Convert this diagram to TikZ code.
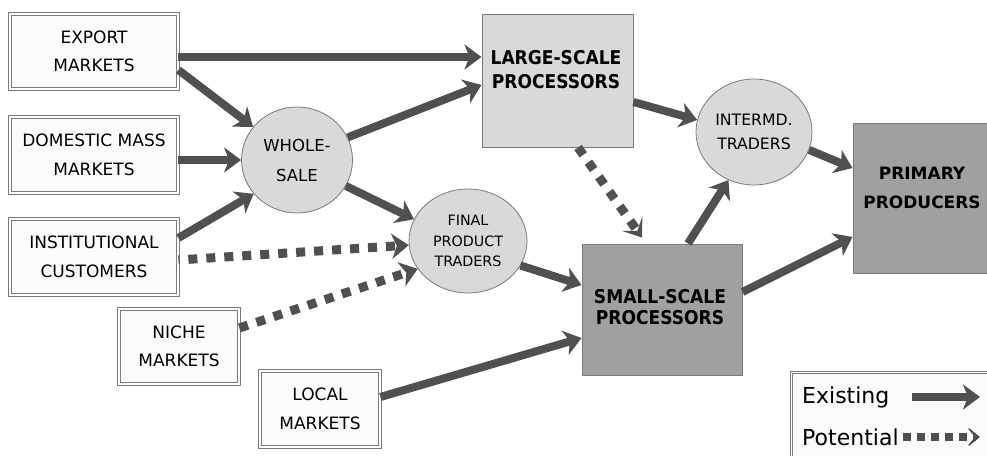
\documentclass[tikz,border=0pt]{standalone}
\usepackage{fontspec}
\setmainfont{DejaVu Sans}
\newfontfamily\narrowbold[FakeStretch=0.9]{DejaVu Sans Bold}
\usetikzlibrary{arrows.meta,shapes.geometric}

\definecolor{arrowgray}{HTML}{505050}
\definecolor{edgegray}{HTML}{7A7A7A}
\definecolor{lightfill}{HTML}{D9D9D9}
\definecolor{darkfill}{HTML}{A0A0A0}
\definecolor{paper}{HTML}{FBFBFB}

\begin{document}
\begin{tikzpicture}[x=1pt,y=-1pt,
  market/.style={draw=edgegray, line width=0.8pt, double=white, double distance=1.6pt,
    fill=paper, align=center, inner sep=0pt, font=\fontsize{17}{28.5}\selectfont},
  hub/.style={ellipse, draw=edgegray, line width=0.8pt, fill=lightfill, inner sep=0pt, align=center},
  plant/.style={rectangle, draw=edgegray, line width=1pt, inner sep=0pt},
  plantlabel/.style={align=center, inner sep=0pt},
  existing/.style={draw=arrowgray, line width=8pt, -{Stealth[length=17pt,width=25pt,inset=5pt]}},
  potential/.style={draw=arrowgray, line width=9pt, dash pattern=on 9pt off 9pt,
    -{Stealth[length=17pt,width=25pt,inset=5pt]}},
]
\fill[white] (0,0) rectangle (987,455);
\useasboundingbox (0,0) rectangle (987,455);

% market boxes
\node[market, minimum width=168pt, minimum height=75pt] (export)   at (94,51.5)  {EXPORT\\MARKETS};
\node[market, minimum width=168pt, minimum height=76pt] (domestic) at (94,155)   {DOMESTIC MASS\\MARKETS};
\node[market, minimum width=168pt, minimum height=76pt] (instit)   at (94,257)   {INSTITUTIONAL\\CUSTOMERS};
\node[market, minimum width=120pt, minimum height=75pt] (niche)    at (179,346.5){NICHE\\MARKETS};
\node[market, minimum width=120pt, minimum height=76pt] (local)    at (320,409)  {LOCAL\\MARKETS};

% traders
\node[hub, minimum width=111pt, minimum height=106pt, font=\fontsize{16.5}{30}\selectfont] (whole) at (297,160) {WHOLE-\\SALE};
\node[hub, minimum width=118pt, minimum height=104pt, font=\fontsize{14.3}{20.5}\selectfont] (final) at (468,241) {FINAL\\PRODUCT\\TRADERS};
\node[hub, minimum width=116pt, minimum height=106pt, font=\fontsize{15.7}{24}\selectfont] (interm) at (754,132) {INTERMD.\\TRADERS};

% processors and producers
\node[plant, fill=lightfill, minimum width=151pt, minimum height=133pt] (large) at (557.5,80.5) {};
\node[plantlabel, font=\narrowbold\fontsize{19}{24}\selectfont] (largetext) at (556,70) {LARGE-SCALE\\PROCESSORS};
\node[plant, fill=darkfill, minimum width=160pt, minimum height=131pt] (small) at (662,309.5) {};
\node[plantlabel, font=\narrowbold\fontsize{19}{21}\selectfont] (smalltext) at (660,307.5) {SMALL-SCALE\\PROCESSORS};
\node[plant, fill=darkfill, minimum width=147pt, minimum height=150pt] (primary) at (926.5,198) {};
\node[plantlabel, font=\bfseries\fontsize{17}{29}\selectfont] (primarytext) at (922,187.5) {PRIMARY\\PRODUCERS};

% existing flows
\draw[existing] ([yshift=-5.5pt]export.east) -- ([yshift=-5.5pt]export.east -| large.west);
\draw[existing] ([yshift=-18.5pt]export.east) -- (whole.143);
\draw[existing] ([yshift=-5pt]domestic.east) -- (whole.west);
\draw[existing] ([yshift=19pt]instit.east) -- (whole.218);
\draw[existing] (whole.24) -- ([yshift=-4.5pt]large.west);
\draw[existing] (whole.332) -- (final.158);
\draw[existing] ([yshift=-21.5pt]large.east) -- (interm.168);
\draw[existing] (final.335) -- ([yshift=24.5pt]small.west);
\draw[existing] ([yshift=12pt]local.east) -- ([yshift=-28.5pt]small.west);
\draw[existing] ([xshift=26pt]small.north) -- (interm.242);
\draw[existing] (interm.342) -- ([yshift=30pt]primary.west);
\draw[existing] ([yshift=17.5pt]small.east) -- ([yshift=-39pt]primary.west);

% potential flows
\draw[potential, dash phase=-10pt] ([yshift=-3pt]instit.east) -- (final.184);
\draw[potential] ([yshift=18.5pt]niche.east) -- (final.209);
\draw[potential, -{Stealth[length=17pt,width=25pt,inset=9pt]}]
  ([xshift=20.5pt]large.south) -- ([xshift=-20pt,yshift=6pt]small.north);

% legend
\node[market, anchor=north west, minimum width=215pt, minimum height=100pt] (legend) at (791,372) {};
\node[anchor=west, inner sep=0pt, font=\fontsize{22}{22}\selectfont] (existlbl) at (802,397) {Existing};
\node[anchor=west, inner sep=0pt, font=\fontsize{22}{22}\selectfont] (potlbl) at (802,437) {Potential};
\coordinate (exA) at (912,397);
\coordinate (exB) at (980,397);
\coordinate (poA) at (903,437);
\coordinate (poB) at (980,437);
\draw[existing] (exA) -- (exB);
\draw[potential, line width=8pt, dash pattern=on 8pt off 6pt,
  -{Stealth[length=16pt,width=26pt,inset=11pt]}] (poA) -- (poB);
\end{tikzpicture}
\end{document}
